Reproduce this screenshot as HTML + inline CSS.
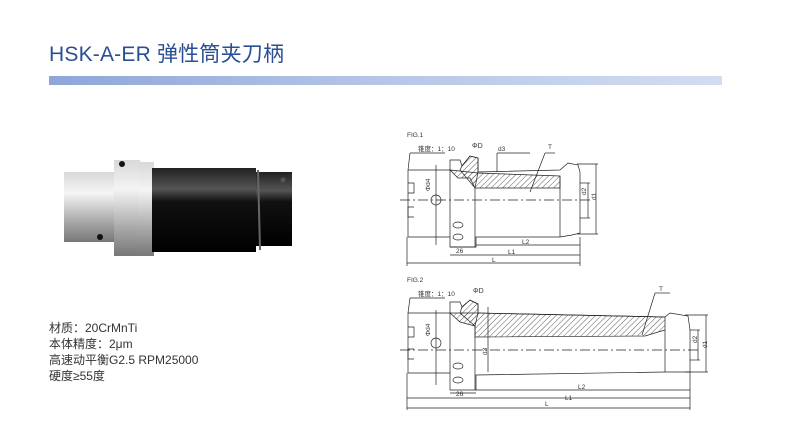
<!DOCTYPE html>
<html><head><meta charset="utf-8"><style>
body{margin:0;width:790px;height:429px;background:#fff;overflow:hidden;position:relative;font-family:"Liberation Sans","Noto Sans CJK SC",sans-serif}
.t{position:absolute;left:49px;top:38px;font-size:21px;color:#2a4f93;letter-spacing:0.2px}
.bar{position:absolute;left:49px;top:76px;width:673px;height:9px;background:linear-gradient(90deg,#8ea6d8,#b6c6e7 50%,#d3ddf1)}
.spec{position:absolute;left:49px;top:320px;font-size:12px;color:#333;line-height:16px}
</style></head><body>
<div class="t">HSK-A-ER 弹性筒夹刀柄</div>
<div class="bar"></div>
<svg width="790" height="429" style="position:absolute;left:0;top:0">
<defs>
<pattern id="h" width="4" height="4" patternUnits="userSpaceOnUse" patternTransform="rotate(45)"><line x1="0" y1="0" x2="0" y2="4" stroke="#333" stroke-width="0.8"/></pattern>
<linearGradient id="sil" x1="0" y1="0" x2="0" y2="1"><stop offset="0" stop-color="#d8d8d8"/><stop offset="0.3" stop-color="#f4f4f4"/><stop offset="0.7" stop-color="#aaa"/><stop offset="1" stop-color="#777"/></linearGradient>
<linearGradient id="blk" x1="0" y1="0" x2="0" y2="1"><stop offset="0" stop-color="#222"/><stop offset="0.25" stop-color="#555"/><stop offset="0.4" stop-color="#111"/><stop offset="1" stop-color="#000"/></linearGradient>
</defs>
<!-- photo -->
<rect x="64" y="172" width="52" height="70" fill="url(#sil)"/>
<path d="M114 160 L140 160 L142 168 L142 248 L140 256 L114 256 Z" fill="url(#sil)"/>
<rect x="138" y="162" width="16" height="94" fill="url(#sil)"/>
<rect x="152" y="168" width="104" height="84" fill="url(#blk)"/>
<rect x="256" y="172" width="36" height="74" fill="url(#blk)"/>
<line x1="258" y1="170" x2="260" y2="250" stroke="#666" stroke-width="2"/>
<circle cx="122" cy="164" r="3" fill="#111"/><circle cx="100" cy="237" r="3" fill="#111"/>
<circle cx="283" cy="180" r="2.5" fill="#555"/>
<g fill="none" stroke="#222" stroke-width="0.7" font-size="6.5" font-family="Liberation Sans,Noto Sans CJK SC,sans-serif">
<text x="407" y="137" fill="#333" stroke="none">FIG.1</text>
<text x="418" y="151" fill="#333" stroke="none">锥度：1：10</text>
<text x="472" y="148" fill="#333" stroke="none" font-size="7">ΦD</text>
<text x="498" y="151" fill="#333" stroke="none">d3</text>
<text x="548" y="149" fill="#333" stroke="none">T</text>
<path d="M408 170 L450 170 L450 160 L460 160 L462 166 L470 156 L478 158 L478 172 L560 170 L568 163 L578 165 L580 172 L580 200" />
<path d="M450 170 L458 178 L470 178 L475 188 L560 188 L560 176 L478 173 Z" fill="url(#h)"/>
<path d="M478 158 L470 156 L462 166 L460 170 L475 188 L478 172Z" fill="url(#h)"/>
<path d="M408 170 L408 237 L450 237 L450 247 L476 247 L476 237 L560 237 L572 235 L580 233 L580 200"/>
<path d="M408 183 L414 183 L414 193 L408 193 M414 207 L408 207 L408 217 L414 217"/>
<line x1="450" y1="170" x2="450" y2="237"/><line x1="475" y1="188" x2="475" y2="247"/><line x1="560" y1="176" x2="560" y2="237"/>
<circle cx="436" cy="200" r="5"/><ellipse cx="458" cy="225" rx="5" ry="3"/><ellipse cx="458" cy="237" rx="5" ry="3"/>
<line x1="400" y1="200" x2="590" y2="200" stroke-dasharray="10,3,2,3"/>
<text x="427" y="188" fill="#333" stroke="none" transform="rotate(-90 430 188)">Φd4</text>
<line x1="436" y1="165" x2="436" y2="245"/>
<line x1="410" y1="153" x2="445" y2="153"/><line x1="410" y1="153" x2="408" y2="170"/>
<line x1="497" y1="153" x2="530" y2="153"/><line x1="497" y1="153" x2="497" y2="172"/>
<line x1="545" y1="153" x2="555" y2="153"/><line x1="545" y1="153" x2="530" y2="192"/>
<line x1="577" y1="164" x2="598" y2="164"/><line x1="577" y1="234" x2="598" y2="234"/><line x1="596" y1="164" x2="596" y2="234"/>
<line x1="580" y1="183" x2="590" y2="183"/><line x1="580" y1="218" x2="590" y2="218"/><line x1="588" y1="183" x2="588" y2="218"/>
<text x="596" y="200" fill="#333" stroke="none" transform="rotate(-90 596 200)">d1</text>
<text x="586" y="195" fill="#333" stroke="none" transform="rotate(-90 586 195)">d2</text>
<line x1="450" y1="247" x2="476" y2="247"/><text x="456" y="253" fill="#333" stroke="none">26</text>
<line x1="476" y1="245" x2="580" y2="245"/><text x="522" y="244" fill="#333" stroke="none">L2</text>
<line x1="450" y1="255" x2="580" y2="255"/><text x="508" y="254" fill="#333" stroke="none">L1</text>
<line x1="407" y1="263" x2="580" y2="263"/><text x="492" y="262" fill="#333" stroke="none">L</text>
<line x1="407" y1="237" x2="407" y2="266"/><line x1="580" y1="237" x2="580" y2="266"/>
<text x="407" y="282" fill="#333" stroke="none">FIG.2</text>
<text x="418" y="296" fill="#333" stroke="none">锥度：1：10</text>
<text x="473" y="293" fill="#333" stroke="none" font-size="7">ΦD</text>
<text x="659" y="291" fill="#333" stroke="none">T</text>
<path d="M408 313 L450 313 L450 302 L460 302 L462 307 L470 300 L478 304 L478 313 L665 317 L670 313 L688 316 L690 330 L690 350"/>
<path d="M450 313 L460 322 L475 326 L475 337 L645 336 L665 330 L665 317 L478 313 Z" fill="url(#h)"/>
<path d="M478 304 L470 300 L462 307 L460 313 L475 326 L478 313Z" fill="url(#h)"/>
<path d="M408 313 L408 373 L450 373 L450 390 L476 390 L476 375 L665 372 L690 372 L690 350"/>
<path d="M408 327 L414 327 L414 337 L408 337 M414 349 L408 349 L408 359 L414 359"/>
<line x1="450" y1="313" x2="450" y2="373"/><line x1="475" y1="326" x2="475" y2="390"/><line x1="665" y1="330" x2="665" y2="372"/>
<circle cx="436" cy="343" r="5"/><ellipse cx="458" cy="366" rx="5" ry="3"/><ellipse cx="458" cy="380" rx="5" ry="3"/>
<line x1="400" y1="350" x2="700" y2="350" stroke-dasharray="10,3,2,3"/>
<text x="427" y="333" fill="#333" stroke="none" transform="rotate(-90 430 333)">Φd4</text>
<line x1="436" y1="310" x2="436" y2="385"/>
<line x1="488" y1="307" x2="488" y2="372"/>
<text x="487" y="355" fill="#333" stroke="none" transform="rotate(-90 487 355)">d3</text>
<line x1="410" y1="298" x2="445" y2="298"/><line x1="410" y1="298" x2="408" y2="313"/>
<line x1="655" y1="293" x2="670" y2="293"/><line x1="655" y1="293" x2="642" y2="335"/>
<line x1="685" y1="315" x2="708" y2="315"/><line x1="685" y1="372" x2="708" y2="372"/><line x1="706" y1="315" x2="706" y2="372"/>
<line x1="690" y1="330" x2="700" y2="330"/><line x1="690" y1="360" x2="700" y2="360"/><line x1="698" y1="330" x2="698" y2="360"/>
<text x="707" y="348" fill="#333" stroke="none" transform="rotate(-90 707 348)">d1</text>
<text x="697" y="343" fill="#333" stroke="none" transform="rotate(-90 697 343)">d2</text>
<line x1="450" y1="393" x2="476" y2="393"/><text x="456" y="396" fill="#333" stroke="none">26</text>
<line x1="476" y1="390" x2="690" y2="390"/><text x="578" y="389" fill="#333" stroke="none">L2</text>
<line x1="407" y1="398" x2="690" y2="398"/><text x="565" y="400" fill="#333" stroke="none">L1</text>
<line x1="407" y1="408" x2="690" y2="408"/><text x="545" y="406" fill="#333" stroke="none">L</text>
<line x1="407" y1="373" x2="407" y2="410"/><line x1="690" y1="372" x2="690" y2="410"/>
</g>
</svg>
<div class="spec">材质：20CrMnTi<br>本体精度：2μm<br>高速动平衡G2.5 RPM25000<br>硬度≥55度</div>
</body></html>
